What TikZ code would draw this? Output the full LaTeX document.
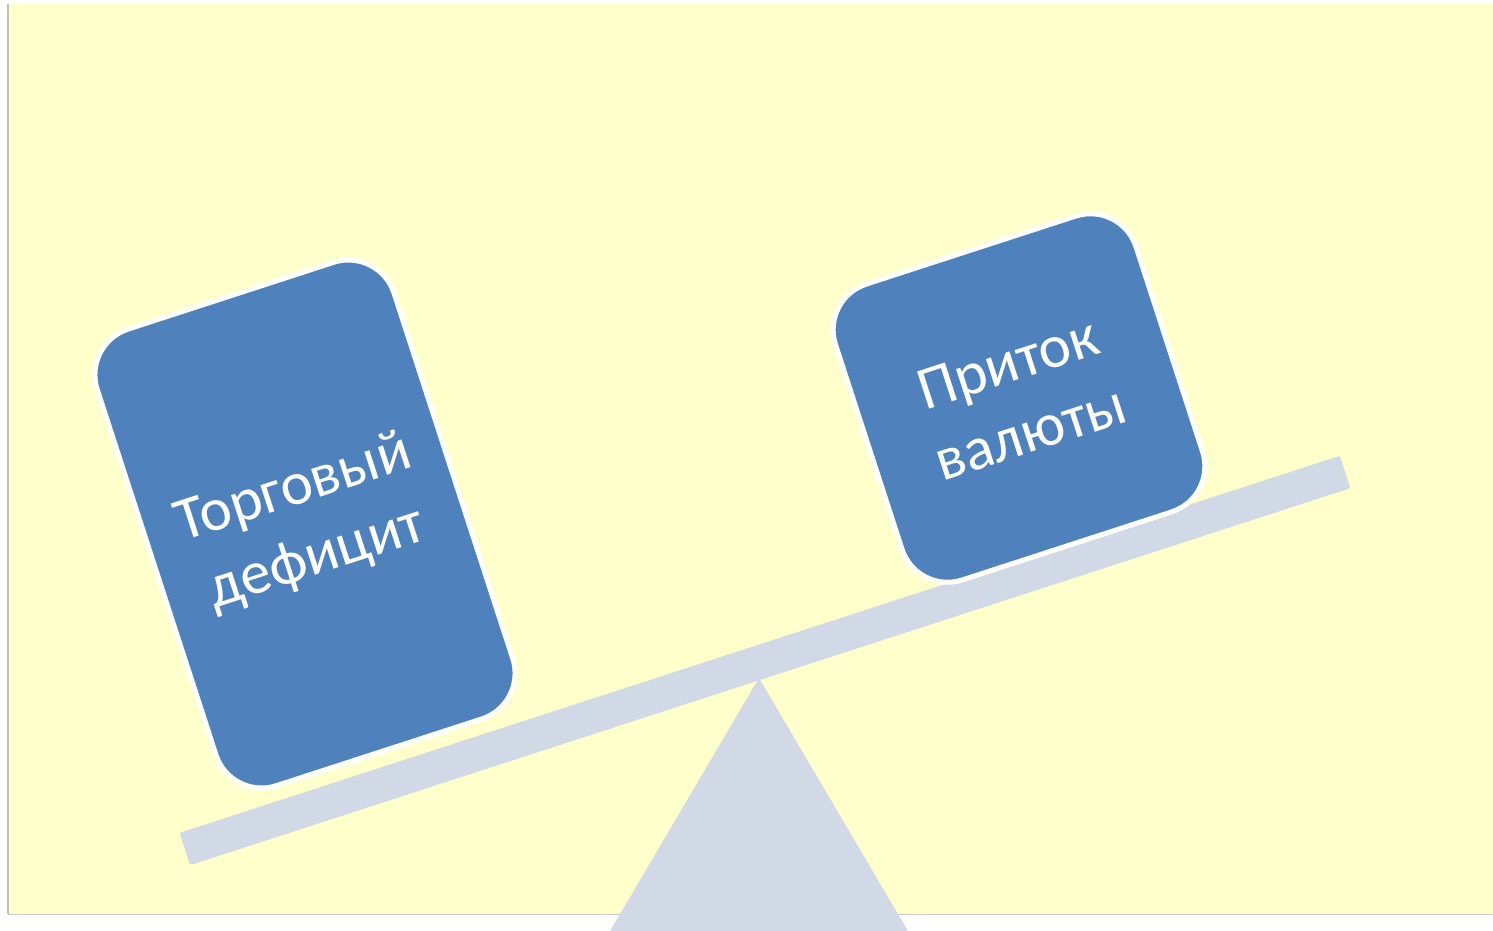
\documentclass[tikz,border=0pt]{standalone}
\usepackage{fontspec}
\setmainfont{Carlito}
\definecolor{bgyellow}{HTML}{FFFFCC}
\definecolor{boxblue}{HTML}{4F81BD}
\definecolor{beamgray}{HTML}{D2D9E6}
\definecolor{edgegray}{HTML}{C4C0B4}
\definecolor{linegray}{HTML}{CACACA}
\begin{document}
\begin{tikzpicture}[x=1pt,y=-1pt,
  weightbox/.style={draw=white, line width=5pt, fill=boxblue, rounded corners=48pt,
    rotate=18, text=white, align=center, font=\fontsize{61}{73}\selectfont, inner sep=0pt},
  beamshape/.style={fill=beamgray, rounded corners=2pt, rotate=18, inner sep=0pt}]
\useasboundingbox (0,0) rectangle (1493,931);
\clip (0,0) rectangle (1493,931);
\fill[white] (0,0) rectangle (1493,931);
\fill[bgyellow] (8,4) rectangle (1493,914);
\draw[edgegray, line width=2pt] (7.5,4) -- (7.5,914);
\draw[linegray, line width=1.5pt] (8,914.5) -- (1493,914.5);
% fulcrum
\coordinate (apex) at (759,678);
\coordinate (baseL) at (593,960);
\coordinate (baseR) at (925,960);
\fill[beamgray] (apex) -- (baseL) -- (baseR) -- cycle;
% beam
\node[beamshape, minimum width=1220pt, minimum height=34pt] (beam) at (765,660.5) {};
% weights
\node[weightbox, minimum width=312pt, minimum height=480pt] (deficit) at (305,524) {Торговый\\дефицит};
\node[weightbox, minimum width=316pt, minimum height=311pt] (inflow) at (1019,398) {Приток\\валюты};
\end{tikzpicture}
\end{document}
